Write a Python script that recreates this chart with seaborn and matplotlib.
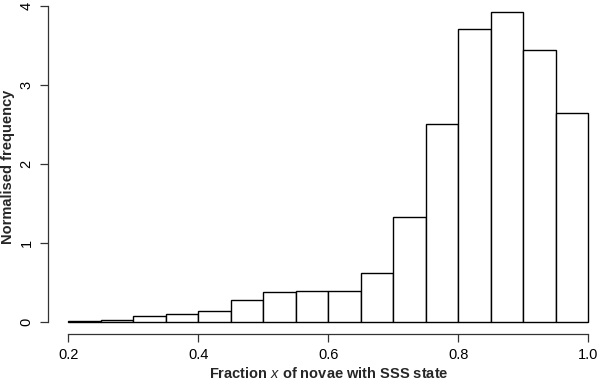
import numpy as np
import matplotlib
matplotlib.use("Agg")
import matplotlib.pyplot as plt
import seaborn as sns

# histogram: bins of width 0.05 from 0.2 to 1.0
bin_left = [0.20, 0.25, 0.30, 0.35, 0.40, 0.45, 0.50, 0.55,
            0.60, 0.65, 0.70, 0.75, 0.80, 0.85, 0.90, 0.95]
freq = [0.009, 0.02, 0.068, 0.094, 0.14, 0.275, 0.38, 0.393,
        0.385, 0.62, 1.33, 2.51, 3.71, 3.92, 3.44, 2.65]
bin_width = 0.05
xticks = [0.2, 0.4, 0.6, 0.8, 1.0]
xtick_labels = ["0.2", "0.4", "0.6", "0.8", "1.0"]
yticks = [0, 1, 2, 3, 4]

sns.set_style("ticks")
plt.rcParams["font.family"] = ["Liberation Sans", "DejaVu Sans"]
plt.rcParams["mathtext.fontset"] = "custom"
plt.rcParams["mathtext.it"] = "Liberation Sans:italic"
plt.rcParams["mathtext.rm"] = "Liberation Sans:bold"

W, H = 600, 382
fig = plt.figure(figsize=(6, 3.82), dpi=100)
# R-style plot region (extends slightly past the cropped image)
x0, x1 = 47.5, 609.0
y_top, y_bot = -6.6, 334.3
ax = fig.add_axes([x0 / W, (H - y_bot) / H, (x1 - x0) / W, (y_bot - y_top) / H])

centers = np.array(bin_left) + bin_width / 2
edges = list(bin_left) + [bin_left[-1] + bin_width]
sns.histplot(x=centers, weights=freq, bins=edges, stat="count",
             color="white", edgecolor="black", linewidth=1.0, alpha=1,
             ax=ax)

ax.set_xlim(0.168, 1.032)
ax.set_ylim(-0.16, 4.16)
for s in ["top", "right"]:
    ax.spines[s].set_visible(False)
ax.spines["left"].set_bounds(0, 4)
ax.spines["bottom"].set_bounds(0.2, 1.0)
for s in ["left", "bottom"]:
    ax.spines[s].set_linewidth(0.9)
    ax.spines[s].set_color("#333333")

ax.set_xticks(xticks)
ax.set_xticklabels(xtick_labels)
ax.set_yticks(yticks)
ax.set_yticklabels([str(v) for v in yticks], rotation=90, va="center")
ax.tick_params(axis="both", length=6, width=0.9, color="#333333",
               labelsize=10.5, pad=4, labelcolor="black")

ax.set_xlabel(r"Fraction $x$ of novae with SSS state",
              fontsize=10.5, fontweight="bold")
ax.set_ylabel("Normalised frequency", fontsize=10.5, fontweight="bold")
# label anchors: right edge of the y label, top edge of the x label
ax.yaxis.set_label_coords(-(x0 - 15) / (x1 - x0), (y_bot - 167) / (y_bot - y_top))
ax.xaxis.set_label_coords((329 - x0) / (x1 - x0), -(366 - y_bot) / (y_bot - y_top))

fig.savefig("out.png", dpi=100)
